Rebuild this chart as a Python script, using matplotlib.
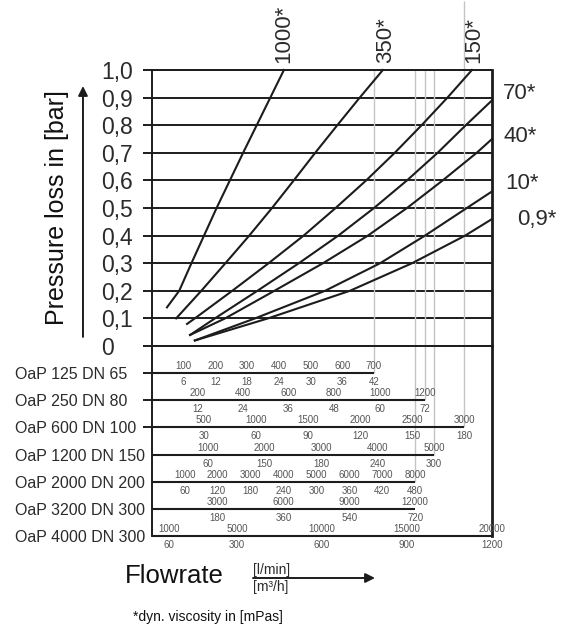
import matplotlib.pyplot as plt

plt.rcParams['font.family'] = ['Liberation Sans', 'DejaVu Sans']

# pressure loss axis [bar]
dp_ticks = [0, 0.1, 0.2, 0.3, 0.4, 0.5, 0.6, 0.7, 0.8, 0.9, 1.0]
dp_tick_labels = ['0', '0,1', '0,2', '0,3', '0,4', '0,5', '0,6', '0,7', '0,8', '0,9', '1,0']

# viscosity curves, x = position on the flow scales in % of full width
visc_labels = ['1000*', '350*', '150*', '70*', '40*', '10*', '0,9*']

flow_1000 = [4.4, 8.0, 11.6, 15.3, 19.0, 22.9, 26.8, 30.8, 34.8, 38.8]
dp_1000 = [0.14, 0.2, 0.3, 0.4, 0.5, 0.6, 0.7, 0.8, 0.9, 1.0]

flow_350 = [7.1, 14.5, 21.6, 28.6, 35.3, 41.7, 48.0, 54.5, 61.1, 67.9]
dp_350 = [0.1, 0.2, 0.3, 0.4, 0.5, 0.6, 0.7, 0.8, 0.9, 1.0]

flow_150 = [10.3, 12.6, 23.6, 34.3, 44.6, 54.0, 63.0, 71.4, 79.3, 86.9, 94.1]
dp_150 = [0.08, 0.1, 0.2, 0.3, 0.4, 0.5, 0.6, 0.7, 0.8, 0.9, 1.0]

flow_70 = [11.2, 18.5, 31.0, 43.2, 54.8, 65.3, 75.0, 84.0, 92.3, 100]
dp_70 = [0.04, 0.1, 0.2, 0.3, 0.4, 0.5, 0.6, 0.7, 0.8, 0.89]

flow_40 = [11.2, 21.5, 36.0, 50.3, 63.5, 75.0, 85.5, 95.5, 100]
dp_40 = [0.04, 0.1, 0.2, 0.3, 0.4, 0.5, 0.6, 0.7, 0.75]

flow_10 = [12.6, 30.3, 50.9, 67.1, 80.3, 92.6, 100]
dp_10 = [0.02, 0.1, 0.2, 0.3, 0.4, 0.5, 0.56]

flow_09 = [12.6, 34.1, 58.2, 76.5, 92.1, 100]
dp_09 = [0.02, 0.1, 0.2, 0.3, 0.4, 0.46]

curves = [(flow_1000, dp_1000), (flow_350, dp_350), (flow_150, dp_150),
          (flow_70, dp_70), (flow_40, dp_40), (flow_10, dp_10), (flow_09, dp_09)]

# pump sizes and their flow scales
pump_names = ['OaP 125 DN 65', 'OaP 250 DN 80', 'OaP 600 DN 100', 'OaP 1200 DN 150',
              'OaP 2000 DN 200', 'OaP 3200 DN 300', 'OaP 4000 DN 300']
flow_lmin = [
    [100, 200, 300, 400, 500, 600, 700],
    [200, 400, 600, 800, 1000, 1200],
    [500, 1000, 1500, 2000, 2500, 3000],
    [1000, 2000, 3000, 4000, 5000],
    [1000, 2000, 3000, 4000, 5000, 6000, 7000, 8000],
    [3000, 6000, 9000, 12000],
    [1000, 5000, 10000, 15000, 20000],
]
flow_m3h = [
    [6, 12, 18, 24, 30, 36, 42],
    [12, 24, 36, 48, 60, 72],
    [30, 60, 90, 120, 150, 180],
    [60, 150, 180, 240, 300],
    [60, 120, 180, 240, 300, 360, 420, 480],
    [180, 360, 540, 720],
    [60, 300, 600, 900, 1200],
]
# l/min at the right border of the chart for each pump scale
full_scale_lmin = [1072, 1494, 3268, 6031, 10336, 15504, 20000]

dark = '#1c1c1c'
text_col = '#2b2b2b'
num_col = '#555555'
grey = '#c4c4c4'


def main():
    fig = plt.figure(figsize=(5.73, 6.29), dpi=100)
    ax2 = fig.add_axes([152 / 573, 1 - 536 / 629, 340 / 573, 190 / 629])
    ax = fig.add_axes([152 / 573, 1 - 346 / 629, 340 / 573, 276 / 629])
    ax2.patch.set_visible(False)

    # upper chart
    ax.set_xlim(0, 100)
    ax.set_ylim(0, 1.0)
    ax.set_xticks([])
    ax.set_yticks(dp_ticks)
    ax.set_yticklabels(dp_tick_labels, fontsize=16.5, color=text_col, ha='left')
    ax.tick_params(axis='y', direction='out', length=6.5, width=1.4, color=dark, pad=30)
    ax.yaxis.grid(True, color=dark, lw=1.4)
    ax.set_axisbelow(True)
    for s in ax.spines.values():
        s.set_color(dark)
        s.set_linewidth(1.4)
    ax.spines['right'].set_linewidth(2)
    ax.set_ylabel('Pressure loss in [bar]', fontsize=18, color='#111111', labelpad=23)
    ax.annotate('', xy=(-0.203, 0.942), xytext=(-0.203, 0.033), xycoords='axes fraction',
                arrowprops=dict(arrowstyle='-|>', color=dark, lw=1.4, mutation_scale=14,
                                shrinkA=0, shrinkB=0))

    # lower chart with the pump flow scales
    ax2.set_xlim(0, 100)
    ax2.set_ylim(6, -1)
    ax2.set_xticks([])
    ax2.set_yticks(range(len(pump_names)))
    ax2.set_yticklabels(pump_names, fontsize=11.5, color=text_col, ha='left')
    ax2.tick_params(axis='y', direction='out', length=6.5, width=1.4, color=dark, pad=92)
    for i, t in enumerate(ax2.yaxis.get_major_ticks()):
        if i > 2:
            t.tick1line.set_visible(False)
    ax2.spines['top'].set_visible(False)
    ax2.spines['bottom'].set_visible(False)
    ax2.spines['left'].set_color(dark)
    ax2.spines['left'].set_linewidth(1.4)
    ax2.spines['right'].set_color(dark)
    ax2.spines['right'].set_linewidth(2)

    for i, (lm, m3, full) in enumerate(zip(flow_lmin, flow_m3h, full_scale_lmin)):
        xs = [v / full * 100 for v in lm]
        ax2.hlines(i, 0, xs[-1], color=dark, lw=1.5, clip_on=False)
        for x, a, b in zip(xs, lm, m3):
            ax2.annotate(str(a), (x, i), xytext=(0, 5), textcoords='offset points',
                         ha='center', va='center', fontsize=7, color=num_col)
            ax2.annotate(str(b), (x, i), xytext=(0, -6.5), textcoords='offset points',
                         ha='center', va='center', fontsize=7, color=num_col)
        # grey guide line from the top of the chart down to the end of the scale
        if i < 5:
            top = 1.25 if i == 2 else 1.0
            ax.vlines(xs[-1], 0, top, color=grey, lw=1, zorder=1, clip_on=False)
            ax2.vlines(xs[-1], -1, i, color=grey, lw=1, zorder=1)

    # viscosity curves
    label_offsets = [(0, 5), (2, 5), (1.5, 5), (8, 5), (8, 1.5), (9.5, 6), (18, -0.5)]
    for k, ((fx, fy), lab) in enumerate(zip(curves, visc_labels)):
        ax.plot(fx, fy, color=dark, lw=1.5, zorder=3, clip_on=False)
        if k < 3:
            ax.annotate(lab, (fx[-1], fy[-1]), xytext=label_offsets[k], textcoords='offset points',
                        rotation=90, ha='center', va='bottom', fontsize=16, color=text_col)
        else:
            ax.annotate(lab, (fx[-1], fy[-1]), xytext=label_offsets[k], textcoords='offset points',
                        ha='left', va='center', fontsize=16, color=text_col)

    # flowrate caption
    fig.text(125 / 573, 1 - 576 / 629, 'Flowrate', fontsize=18.5, color='#111111',
             ha='left', va='center')
    fig.text(253 / 573, 1 - 570 / 629, '[l/min]', fontsize=10, color=text_col,
             ha='left', va='center')
    fig.text(253 / 573, 1 - 587 / 629, '[m³/h]', fontsize=10, color=text_col,
             ha='left', va='center')
    ax.annotate('', xy=(375 / 573, 1 - 578 / 629), xytext=(253 / 573, 1 - 578 / 629),
                xycoords='figure fraction',
                arrowprops=dict(arrowstyle='-|>', color=dark, lw=1.4, mutation_scale=14,
                                shrinkA=0, shrinkB=0))
    fig.text(133 / 573, 1 - 617 / 629, '*dyn. viscosity in [mPas]', fontsize=10,
             color='#111111', ha='left', va='center')

    fig.savefig('out.png', dpi=100, facecolor='white')


if __name__ == "__main__":
    main()
